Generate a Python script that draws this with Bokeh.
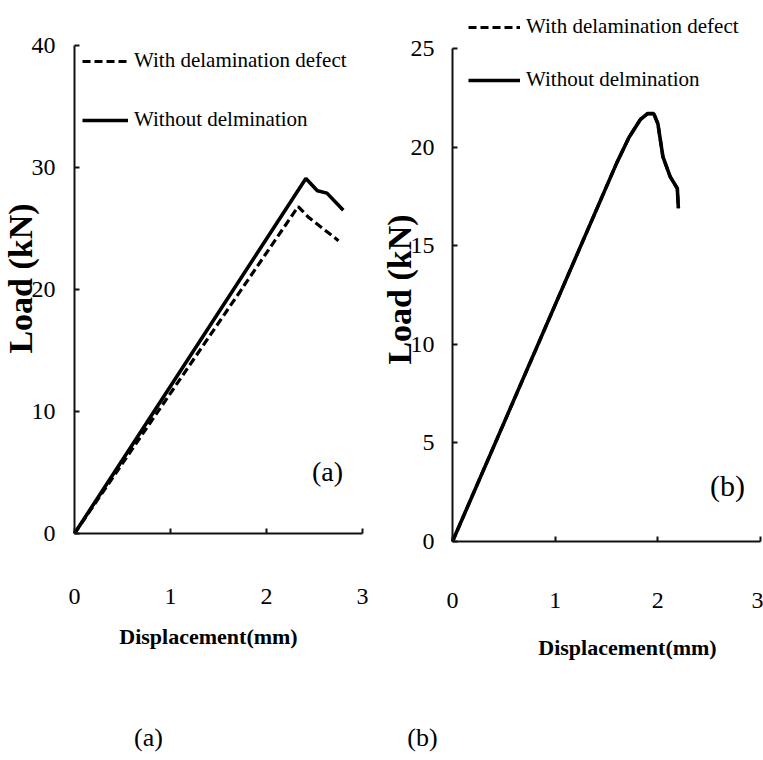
import math
from bokeh.plotting import figure
from bokeh.models import Range1d, Legend, LegendItem, Label, FixedTicker
from bokeh.layouts import row
from bokeh.embed import file_html
from bokeh.resources import INLINE

# ---------------- data ----------------
x_ticks = [0, 1, 2, 3]
a_y_ticks = [0, 10, 20, 30, 40]
b_y_ticks = [0, 5, 10, 15, 20, 25]

# panel (a)
a_with_x = [0, 2.33, 2.44, 2.75]
a_with_y = [0, 26.8, 25.9, 24.0]
a_without_x = [0, 2.41, 2.53, 2.63, 2.80]
a_without_y = [0, 29.1, 28.1, 27.9, 26.5]

# panel (b) (the two curves coincide)
b_with_x = [0, 1.60, 1.72, 1.83, 1.90, 1.96, 2.00, 2.05, 2.12, 2.19, 2.20]
b_with_y = [0, 19.2, 20.5, 21.4, 21.7, 21.7, 21.2, 19.5, 18.5, 17.9, 16.9]
b_without_x = [0, 1.60, 1.72, 1.83, 1.90, 1.96, 2.00, 2.05, 2.12, 2.19, 2.20]
b_without_y = [0, 19.2, 20.5, 21.4, 21.7, 21.7, 21.2, 19.5, 18.5, 17.9, 16.9]

series_labels = ["With delamination defect", "Without delmination"]
x_title = "Displacement(mm)"
y_title = "Load (kN)"
inner_tags = ["(a)", "(b)"]
captions = ["(a)", "(b)"]

SERIF = "Liberation Serif"
H = 760


class Panel:
    """Figure whose frame fills the canvas; axes are pinned at x=0 / y=0."""

    def __init__(self, width, x0_px, x3_px, y0_px, ytop_px, ytop_val, y_ticks,
                 x_std, y_std):
        self.x0, self.y0 = x0_px, y0_px
        self.sx = (x3_px - x0_px) / 3.0
        self.sy = (y0_px - ytop_px) / ytop_val
        p = figure(width=width, height=H, output_backend="svg",
                   toolbar_location=None, title=None,
                   x_range=Range1d(-x0_px / self.sx, 3 + (width - x3_px) / self.sx),
                   y_range=Range1d(-(H - y0_px) / self.sy, ytop_val + ytop_px / self.sy),
                   min_border=0, min_border_left=0, min_border_right=0,
                   min_border_top=0, min_border_bottom=0,
                   background_fill_color="white", border_fill_color="white")
        p.xgrid.visible = False
        p.ygrid.visible = False
        p.outline_line_color = None
        xa, ya = p.xaxis[0], p.yaxis[0]
        xa.ticker = FixedTicker(ticks=x_ticks)
        ya.ticker = FixedTicker(ticks=y_ticks)
        xa.bounds = (0, 3)
        ya.bounds = (0, ytop_val)
        xa.fixed_location = 0
        ya.fixed_location = 0
        for ax in (xa, ya):
            ax.axis_line_color = "#111111"
            ax.axis_line_width = 2
            ax.major_tick_line_color = "#111111"
            ax.major_tick_line_width = 2
            ax.major_tick_in = 5
            ax.major_tick_out = 0
            ax.minor_tick_line_color = None
            ax.major_label_text_font = SERIF
            ax.major_label_text_font_size = "24px"
            ax.major_label_text_color = "black"
        xa.major_label_standoff = x_std
        ya.major_label_standoff = y_std
        self.p = p

    def X(self, px):
        return (px - self.x0) / self.sx

    def Y(self, py):
        return (self.y0 - py) / self.sy

    def text(self, s, px, py, size, bold=False, angle=0.0):
        self.p.add_layout(Label(x=self.X(px), y=self.Y(py), text=s,
                                text_font=SERIF, text_font_size=size,
                                text_font_style="bold" if bold else "normal",
                                text_align="center", text_baseline="middle",
                                text_color="black", angle=angle))

    def curves(self, wx, wy, wox, woy, leg_loc, glyph_w, spacing):
        r1 = self.p.line(wx, wy, line_color="black", line_width=3.2, line_dash="8 4")
        r2 = self.p.line(wox, woy, line_color="black", line_width=3.6)
        leg = Legend(items=[LegendItem(label=series_labels[0], renderers=[r1]),
                            LegendItem(label=series_labels[1], renderers=[r2])],
                     location=leg_loc, padding=0, margin=0, spacing=spacing,
                     glyph_width=glyph_w, glyph_height=24, label_height=24,
                     label_standoff=6, label_text_font=SERIF,
                     label_text_font_size="21px", label_text_color="black",
                     border_line_color=None, background_fill_alpha=0)
        self.p.add_layout(leg)


# panel (a): canvas x 0..380
A = Panel(380, 74, 362, 533, 45, 40, a_y_ticks, x_std=55, y_std=19)
A.curves(a_with_x, a_with_y, a_without_x, a_without_y, (82, H - 132), 46, 34)
A.text(x_title, 208, 636, "22px", bold=True)
A.text(y_title, 20, 278, "34px", bold=True, angle=math.pi / 2)
A.text(inner_tags[0], 327, 471, "28px")
A.text(captions[0], 148, 737, "26px")

# panel (b): canvas x 380..763 (local coordinates)
B = Panel(383, 72, 380, 541, 48, 25, b_y_ticks, x_std=51, y_std=18)
B.curves(b_with_x, b_with_y, b_without_x, b_without_y, (88, H - 92), 52, 28)
B.text(x_title, 627 - 380, 647, "22px", bold=True)
B.text(y_title, 399 - 380, 289, "34px", bold=True, angle=math.pi / 2)
B.text(inner_tags[1], 727 - 380, 485, "30px")
B.text(captions[1], 422 - 380, 737, "26px")

layout = row(A.p, B.p)
open("out.html", "w").write(file_html(layout, INLINE))
